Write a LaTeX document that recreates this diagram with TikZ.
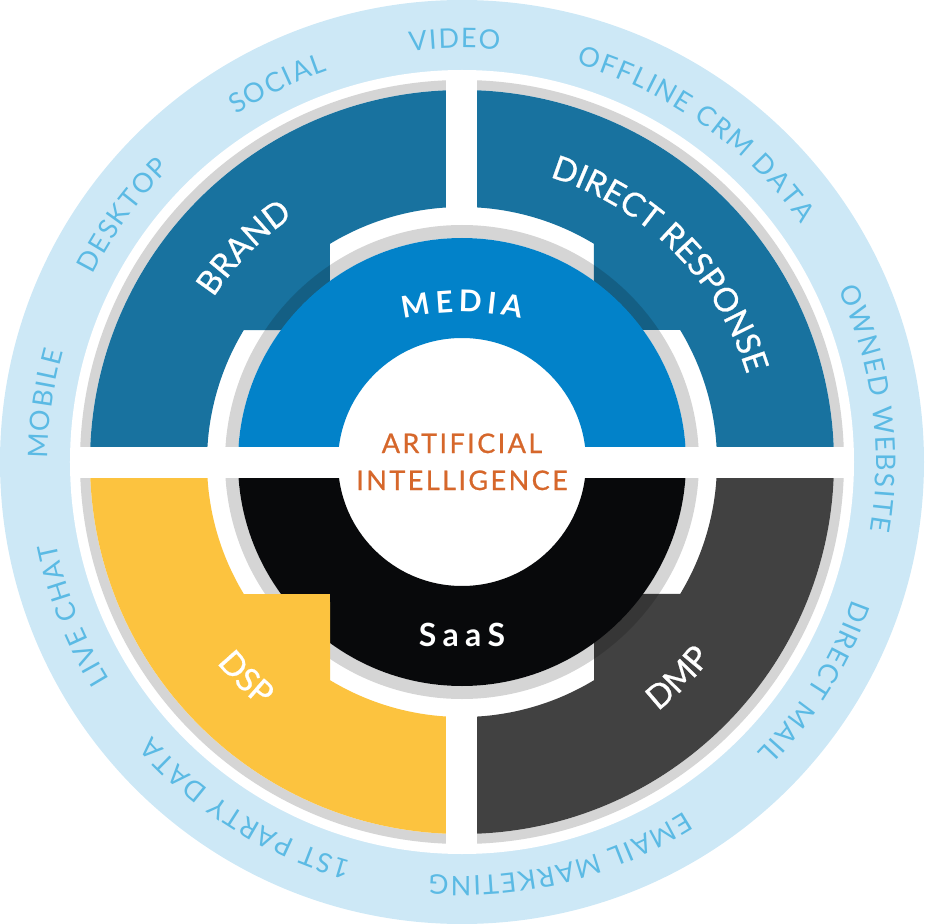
\documentclass[tikz,border=0pt]{standalone}
\usepackage{fontspec}
\setmainfont{Lato}
\newfontfamily\ringfont{Lato}
\newfontfamily\labelfont[FakeBold=0.7]{Lato}
\newfontfamily\aifont[LetterSpace=9,FakeBold=0.7]{Lato}
\newfontfamily\headfont[LetterSpace=20]{Lato}
\usetikzlibrary{calc,decorations.text}

\definecolor{ringblue}{HTML}{CDE8F6}
\definecolor{ringtext}{HTML}{5BBAE4}
\definecolor{brandblue}{HTML}{18729F}
\definecolor{mediablue}{HTML}{0282C9}
\definecolor{saasblack}{HTML}{08090B}
\definecolor{dmpgray}{HTML}{414141}
\definecolor{dspyellow}{HTML}{FCC33F}
\definecolor{shadowgray}{HTML}{D5D5D5}
\definecolor{aiorange}{HTML}{D6672B}

\tikzset{
  ringlabel/.style={decorate,decoration={text effects along path,text/.expanded=#1,text align=center,
      text effects/.cd,text along path,characters={text=ringtext,inner xsep=0.8pt},character widths={inner xsep=0.8pt}}},
  medialabel/.style={decorate,decoration={text effects along path,text/.expanded=#1,text align=center,
      text effects/.cd,text along path,characters={text=white,inner xsep=2.5pt},character widths={inner xsep=2.5pt}}},
  seglabel/.style={decorate,decoration={text along path,text align=center,text color=white,text/.expanded=#1}},
}

\begin{document}
\begin{tikzpicture}[x=1pt,y=1pt]
        \useasboundingbox(-462,-462)rectangle(462,462);
        \coordinate(O)at(0,0);
        % rings and shadows
        \fill[ringblue](O)circle[radius=462];
        \fill[white](O)circle[radius=392];
        \fill[shadowgray](O)circle[radius=382];
        \fill[white](O)circle[radius=372];
        % outer quarters with the notch at the corner
        \foreach \rot/\col in {0/brandblue,90/brandblue,270/dmpgray}
            \fill[\col,rotate=\rot](90:255)arc[start angle=90,end angle=58.83,radius=255]
                --(132,132)--(218.2,132)arc[start angle=31.17,end angle=0,radius=255]
                --(0:372)arc[start angle=0,end angle=90,radius=372]--cycle;
        \fill[black,fill opacity=0.165,even odd rule](O)circle[radius=237](O)circle[radius=224];
        % inner halves
        \fill[mediablue](0:224)arc[start angle=0,end angle=180,radius=224]
            --(180:124)arc[start angle=180,end angle=0,radius=124]--cycle;
        \fill[saasblack](180:224)arc[start angle=180,end angle=360,radius=224]
            --(0:124)arc[start angle=360,end angle=180,radius=124]--cycle;
        \fill[dspyellow,rotate=180](90:255)arc[start angle=90,end angle=58.83,radius=255]
            --(132,132)--(218.2,132)arc[start angle=31.17,end angle=0,radius=255]
            --(0:372)arc[start angle=0,end angle=90,radius=372]--cycle;
        % gaps
        \fill[white](-391,-15.5)rectangle(391,15.5);
        \fill[white](-15.5,240)rectangle(15.5,391);
        \fill[white](-15.5,-240)rectangle(15.5,-391);
        % ring texts
        \begin{scope}
            \ringfont\fontsize{27}{32}\selectfont
            \foreach \ang/\txt in {91/VIDEO,116/SOCIAL,144/DESKTOP,172/MOBILE,201.5/LIVE CHAT,
                238/1ST PARTY DATA,284/EMAIL MARKETING,328/DIRECT MAIL,7.5/OWNED WEBSITE,54.5/OFFLINE CRM DATA}
                \path[ringlabel=\txt](\ang+45:414)arc[start angle=\ang+45,end angle=\ang-45,radius=414];
        \end{scope}
        \begin{scope}
            \labelfont\fontsize{33}{40}\selectfont
            \path[seglabel=BRAND](180.5:298)arc[start angle=180.5,end angle=90.5,radius=298];
            \path[seglabel={DIRECT RESPONSE}](90:298)arc[start angle=90,end angle=0,radius=298];
            \path[seglabel=DSP](180:317)arc[start angle=180,end angle=270,radius=317];
            \path[seglabel=DMP](270:317)arc[start angle=270,end angle=360,radius=317];
        \end{scope}
        \begin{scope}
            \headfont\bfseries\fontsize{30}{36}\selectfont
            \path[medialabel=MEDIA]($(0,-110)+(125:260)$)arc[start angle=125,end angle=55,radius=260];
        \end{scope}
        \node[text=white,inner sep=0pt,font=\headfont\bfseries\fontsize{32}{38}\selectfont](saas)at(0,-172.5){SaaS};
        \node[text=aiorange,inner sep=0pt,anchor=base,font=\aifont\fontsize{27}{32}\selectfont](ai1)at(0,9){ARTIFICIAL};
        \node[text=aiorange,inner sep=0pt,anchor=base,font=\aifont\fontsize{27}{32}\selectfont](ai2)at(0,-28){INTELLIGENCE};
    \end{tikzpicture}
\end{document}
